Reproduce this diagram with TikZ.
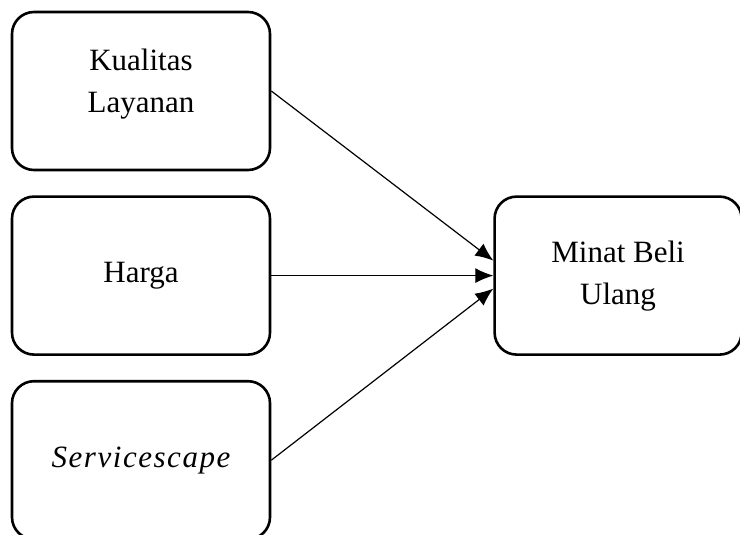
\documentclass[tikz,border=0pt]{standalone}
\usepackage{fontspec}
\setmainfont{Liberation Serif}
\usetikzlibrary{positioning,arrows.meta}

\begin{document}
\begin{tikzpicture}[
    x=1pt, y=-1pt,
    node distance=24pt and 222pt,
    var/.style={rectangle, draw=black, line width=2.6pt, rounded corners=22pt, align=center, font=\fontsize{31}{42}\selectfont, minimum width=258pt, minimum height=158pt, inner sep=0pt},
    arrow/.style={-{Latex[length=18pt,width=15pt]}, line width=1.2pt, black}
  ]
  \useasboundingbox (0,0) rectangle (740,535);
  \node[var, text depth=21pt] (kualitas) at (141,91) {Kualitas\\Layanan};
  \node[var, below=of kualitas] (harga) {Harga};
  \node[var, below=of harga] (servicescape) {\itshape\addfontfeature{LetterSpace=5}Servicescape};
  \node[var, right=of harga, minimum width=247pt] (minat) {Minat Beli\\Ulang};

  \draw[arrow] (kualitas.east) -- ([yshift=15pt]minat.west);
  \draw[arrow] (harga.east) -- (minat.west);
  \draw[arrow] (servicescape.east) -- ([yshift=-13pt]minat.west);
\end{tikzpicture}
\end{document}
